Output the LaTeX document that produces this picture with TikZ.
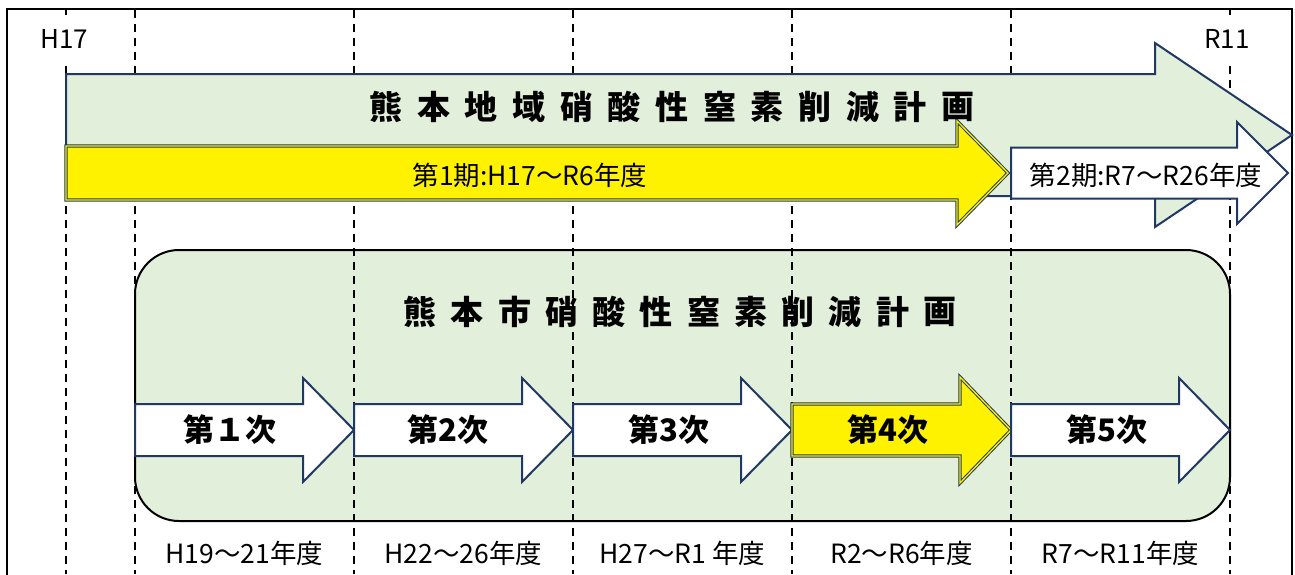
\documentclass[tikz,border=0pt]{standalone}
\usepackage{fontspec}
\setmainfont{Noto Sans CJK JP}
\definecolor{lgreen}{HTML}{E2EFDA}
\definecolor{navy}{HTML}{1F3864}
\tikzset{
  arrowshape/.style n args={6}{insert path={(#1,#2-#5) -- (#3,#2-#5) -- (#3,#2-#6) -- (#4,#2) -- (#3,#2+#6) -- (#3,#2+#5) -- (#1,#2+#5) -- cycle}},
  outerframe/.style={draw=black, line width=2.5pt},
  gridline/.style={draw=black, line width=1.4pt, dash pattern=on 8pt off 6pt},
  greenarrow/.style={draw=navy, line width=2pt, fill=lgreen, line join=miter},
  whitearrow/.style={draw=navy, line width=2pt, fill=white, line join=miter},
  yellowarrow/.style={draw=navy, line width=1pt, double=yellow, double distance=1.3pt, fill=yellow, line join=miter},
  planbox/.style={draw=black, line width=2pt, fill=lgreen, rounded corners=44pt},
  titlechar/.style={inner sep=0pt, font=\fontsize{33}{38}\selectfont\bfseries},
  steptext/.style={inner sep=0pt, font=\fontsize{31}{36}\selectfont\bfseries},
  periodtext/.style={inner sep=0pt, font=\fontsize{26.5}{31}\selectfont},
  yeartext/.style={inner sep=0pt, font=\fontsize{26.5}{31}\selectfont},
  endtext/.style={fill=white, inner xsep=2pt, minimum height=48pt, font=\fontsize{26}{31}\selectfont},
}
\begin{document}
\begin{tikzpicture}[x=1pt,y=-1pt]
\useasboundingbox (0,0) rectangle (1295,574);
\fill[white] (0,0) rectangle (1295,574);
\clip (0,0) rectangle (1295,574);
% outer frame (open at bottom)
\draw[outerframe] (7,590) -- (7,9) -- (1292,9) -- (1292,590);
% rounded plan box
\draw[planbox] (135,250) rectangle (1230,521);
% dashed grid lines
\foreach \gx in {66,135,354,573,792,1011,1230}
  \draw[gridline] (\gx,10) -- (\gx,574);
% H17 / R11
\node[endtext] (h17) at (64,39) {H17};
\node[endtext] (r11) at (1227,39) {R11};
% big regional plan arrow
\draw[greenarrow, arrowshape={66}{135}{1155}{1292}{61}{92}];
% period arrows
\draw[yellowarrow, arrowshape={66}{173}{957}{1008}{27}{52}];
\draw[whitearrow, arrowshape={1011}{173}{1237}{1288}{25.5}{51}];
% title of big arrow
\foreach \c [count=\i from 0] in {熊,本,地,域,硝,酸,性,窒,素,削,減,計,画}
  \node[titlechar] (bt\i) at (386+\i*47.67,107) {\c};
% title of plan box
\foreach \c [count=\i from 0] in {熊,本,市,硝,酸,性,窒,素,削,減,計,画}
  \node[titlechar] (ct\i) at (420+\i*47.27,312) {\c};
% period texts
\node[periodtext] (p1) at (530,175) {第1期:H17～R6年度};
\node[periodtext] (p2) at (1146,175) {第2期:R7～R26年度};
% step arrows
\draw[whitearrow, arrowshape={135}{430}{303}{354}{26}{52}];
\draw[whitearrow, arrowshape={354}{430}{522}{573}{26}{52}];
\draw[whitearrow, arrowshape={573}{430}{741}{792}{26}{52}];
\draw[yellowarrow, arrowshape={792}{430}{960}{1011}{26}{53}];
\draw[whitearrow, arrowshape={1011}{430}{1179}{1230}{26}{52}];
\node[steptext] (s1) at (230,430) {第１次};
\node[steptext] (s2) at (448,430) {第2次};
\node[steptext] (s3) at (669,430) {第3次};
\node[steptext] (s4) at (888,430) {第4次};
\node[steptext] (s5) at (1107,430) {第5次};
% year range labels
\node[yeartext] (y1) at (244.5,553) {H19～21年度};
\node[yeartext] (y2) at (463.5,553) {H22～26年度};
\node[yeartext] (y3) at (682.5,553) {H27～R1 年度};
\node[yeartext] (y4) at (901.5,553) {R2～R6年度};
\node[yeartext] (y5) at (1120.5,553) {R7～R11年度};
\end{tikzpicture}
\end{document}
